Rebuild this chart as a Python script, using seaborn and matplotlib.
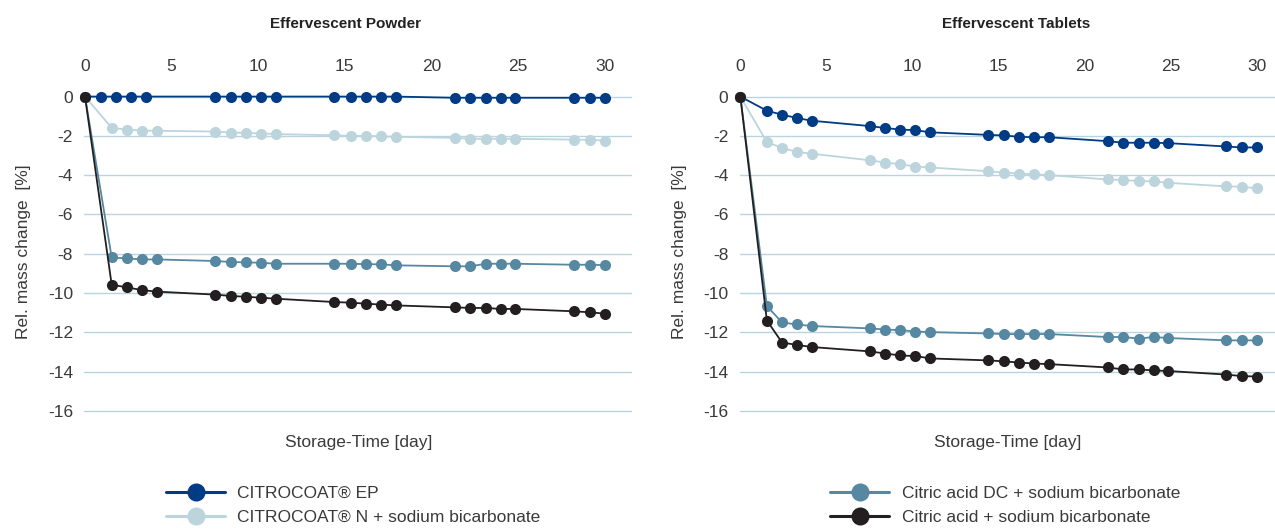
import matplotlib
matplotlib.use("Agg")
import matplotlib.pyplot as plt
import seaborn as sns
import pandas as pd
from matplotlib.lines import Line2D

# storage times (days)
days = [0, 1.54, 2.42, 3.28, 4.15, 7.5, 8.41, 9.3, 10.17, 11.03,
        14.4, 15.33, 16.2, 17.08, 17.93, 21.33, 22.25, 23.13, 24.0, 24.84,
        28.2, 29.13, 30.0]
days_ep_powder = [0, 0.9, 1.78, 2.68, 3.53, 7.5, 8.41, 9.3, 10.17, 11.03,
                  14.4, 15.33, 16.2, 17.08, 17.93, 21.33, 22.25, 23.13, 24.0, 24.84,
                  28.2, 29.13, 30.0]

# Effervescent Powder
powder_ep = [0, 0, 0, 0, 0, 0, 0, 0, 0, 0, 0, 0, 0, 0, 0,
             -0.06, -0.06, -0.06, -0.06, -0.06, -0.06, -0.06, -0.06]
powder_n = [0, -1.59, -1.68, -1.73, -1.74, -1.78, -1.83, -1.85, -1.88, -1.91,
            -1.97, -2.0, -2.0, -2.02, -2.05, -2.1, -2.15, -2.15, -2.15, -2.15,
            -2.19, -2.2, -2.24]
powder_dc = [0, -8.19, -8.24, -8.29, -8.29, -8.37, -8.42, -8.44, -8.46, -8.51,
             -8.51, -8.51, -8.53, -8.54, -8.59, -8.64, -8.64, -8.51, -8.51, -8.51,
             -8.56, -8.56, -8.58]
powder_ca = [0, -9.58, -9.71, -9.85, -9.93, -10.08, -10.15, -10.19, -10.24, -10.29,
             -10.46, -10.49, -10.54, -10.59, -10.63, -10.73, -10.76, -10.76, -10.81, -10.81,
             -10.93, -10.98, -11.05]

# Effervescent Tablets
tablet_ep = [0, -0.72, -0.92, -1.09, -1.23, -1.5, -1.6, -1.68, -1.71, -1.82,
             -1.95, -1.98, -2.05, -2.07, -2.07, -2.27, -2.35, -2.35, -2.35, -2.37,
             -2.54, -2.59, -2.59]
tablet_n = [0, -2.32, -2.61, -2.82, -2.91, -3.24, -3.36, -3.45, -3.56, -3.61,
            -3.8, -3.87, -3.92, -3.95, -4.0, -4.22, -4.25, -4.3, -4.32, -4.39,
            -4.57, -4.59, -4.67]
tablet_dc = [0, -10.66, -11.5, -11.6, -11.68, -11.8, -11.86, -11.89, -11.96, -11.99,
             -12.06, -12.09, -12.09, -12.09, -12.09, -12.24, -12.24, -12.32, -12.24, -12.29,
             -12.41, -12.41, -12.41]
tablet_ca = [0, -11.4, -12.52, -12.64, -12.75, -12.97, -13.08, -13.18, -13.21, -13.33,
             -13.43, -13.48, -13.54, -13.59, -13.62, -13.79, -13.89, -13.89, -13.94, -13.97,
             -14.15, -14.23, -14.25]

series_names = ["CITROCOAT® EP", "CITROCOAT® N + sodium bicarbonate",
                "Citric acid DC + sodium bicarbonate", "Citric acid + sodium bicarbonate"]
colors = ["#003c85", "#bcd5dd", "#5688a2", "#231f20"]
y_ticks = [0, -2, -4, -6, -8, -10, -12, -14, -16]
x_ticks = [0, 5, 10, 15, 20, 25, 30]

sns.set_theme(style="white")
plt.rcParams['font.family'] = ['Liberation Sans', 'DejaVu Sans']
plt.rcParams['axes.unicode_minus'] = False
text_col = "#3a3a3a"
fs = 12.5

fig = plt.figure(figsize=(12.75, 5.29), dpi=100)
ax1 = fig.add_axes([0.066, 0.214, 0.43, 0.622])
ax2 = fig.add_axes([0.580, 0.214, 0.42, 0.622])

panels = [
    (ax1, [days_ep_powder, days, days, days],
     [powder_ep, powder_n, powder_dc, powder_ca], 31.6),
    (ax2, [days, days, days, days],
     [tablet_ep, tablet_n, tablet_dc, tablet_ca], 31.05),
]

for ax, xs, ys, xmax in panels:
    frames = []
    for name, x, y in zip(series_names, xs, ys):
        frames.append(pd.DataFrame({"day": x, "change": y, "series": name}))
    df = pd.concat(frames)
    for i, name in enumerate(series_names):
        sub = df[df["series"] == name]
        sns.lineplot(data=sub, x="day", y="change", ax=ax, color=colors[i],
                     marker="o", markersize=8, markeredgewidth=0, linewidth=1.3,
                     zorder=3 + i, clip_on=False, legend=False)
    ax.set_xlim(-0.05, xmax)
    ax.set_ylim(-16.25, 0.5)
    ax.set_yticks(y_ticks)
    ax.set_xticks(x_ticks)
    ax.xaxis.tick_top()
    ax.tick_params(axis="x", length=0, pad=9.5, labelsize=fs, colors=text_col)
    ax.tick_params(axis="y", length=0, pad=8, labelsize=fs, colors=text_col)
    ax.grid(axis="y", color="#b9d3df", linewidth=1)
    ax.grid(axis="x", visible=False)
    for s in ax.spines.values():
        s.set_visible(False)
    ax.set_xlabel("")
    ax.set_ylabel("Rel. mass change  [%]", fontsize=fs, color=text_col, labelpad=12)
    ax.text(0.5, -0.082, "Storage-Time [day]", transform=ax.transAxes,
            ha="center", va="center", fontsize=fs, color=text_col)

fig.text(0.271, 0.955, "Effervescent Powder", ha="center", va="center",
         fontsize=11, fontweight="bold", color="#222222")
fig.text(0.797, 0.955, "Effervescent Tablets", ha="center", va="center",
         fontsize=11, fontweight="bold", color="#222222")

def handle(c):
    return Line2D([0], [0], color=c, linewidth=2.2, marker="o", markersize=13,
                  markeredgewidth=0)

leg_kw = dict(loc="center left", frameon=False, fontsize=fs, handlelength=3.4,
              labelspacing=0.5, handletextpad=0.7, labelcolor=text_col)
fig.legend([handle(colors[0]), handle(colors[1])], series_names[:2],
           bbox_to_anchor=(0.118, 0.045), **leg_kw)
fig.legend([handle(colors[2]), handle(colors[3])], series_names[2:],
           bbox_to_anchor=(0.639, 0.045), **leg_kw)

fig.savefig("out.png", dpi=100)
